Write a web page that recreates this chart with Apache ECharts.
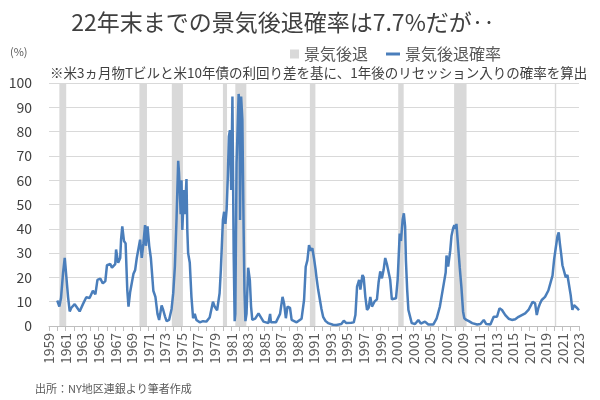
<!DOCTYPE html>
<html>
<head>
<meta charset="utf-8">
<script src="https://cdn.jsdelivr.net/npm/echarts@6/dist/echarts.min.js"></script>
<style>html,body{margin:0;padding:0;background:#fff}#c{width:600px;height:400px}</style>
</head>
<body>
<div id="c"></div>
<script>
// Time (decimal years) and recession probability (%)
const dates = [1960.0,1960.25,1960.45,1960.7,1960.9,1961.1,1961.3,1961.5,1961.7,1961.9,1962.1,1962.4,1962.7,1963.1,1963.5,1963.9,1964.3,1964.6,1964.85,1965.2,1965.5,1965.8,1966.0,1966.4,1966.6,1967.0,1967.1,1967.35,1967.6,1967.7,1967.85,1968.05,1968.25,1968.45,1968.6,1968.8,1969.0,1969.2,1969.4,1969.6,1969.8,1970.0,1970.2,1970.4,1970.6,1970.7,1970.9,1971.1,1971.3,1971.6,1971.85,1972.1,1972.3,1972.6,1972.8,1973.0,1973.2,1973.5,1973.8,1974.0,1974.2,1974.4,1974.6,1974.7,1974.9,1975.0,1975.1,1975.3,1975.4,1975.6,1975.7,1975.8,1976.0,1976.2,1976.4,1976.6,1976.8,1977.2,1977.6,1978.0,1978.4,1978.8,1979.0,1979.3,1979.6,1979.75,1980.0,1980.15,1980.3,1980.45,1980.6,1980.72,1980.85,1981.0,1981.15,1981.3,1981.42,1981.5,1981.65,1981.9,1982.0,1982.07,1982.2,1982.35,1982.5,1982.6,1982.72,1982.85,1983.05,1983.25,1983.4,1983.55,1983.9,1984.3,1984.5,1984.9,1985.5,1985.7,1985.8,1986.4,1986.9,1987.2,1987.4,1987.6,1987.8,1988.1,1988.3,1988.9,1989.5,1989.8,1990.0,1990.2,1990.4,1990.6,1990.8,1991.0,1991.2,1991.3,1991.5,1991.7,1991.9,1992.1,1992.4,1992.7,1993.3,1993.7,1994.3,1994.6,1994.9,1995.5,1995.8,1996.0,1996.2,1996.45,1996.6,1996.85,1997.0,1997.2,1997.4,1997.6,1997.8,1998.0,1998.3,1998.6,1998.8,1999.0,1999.2,1999.4,1999.6,1999.8,2000.0,2000.2,2000.4,2000.6,2000.9,2001.1,2001.2,2001.35,2001.5,2001.7,2001.85,2002.0,2002.1,2002.25,2002.4,2002.6,2002.8,2003.2,2003.6,2003.9,2004.4,2004.8,2005.4,2005.8,2006.2,2006.6,2006.9,2007.0,2007.2,2007.45,2007.6,2007.8,2007.95,2008.1,2008.2,2008.4,2008.6,2008.8,2009.0,2009.15,2009.4,2009.7,2010.1,2010.7,2011.1,2011.5,2011.8,2012.3,2012.7,2013.1,2013.4,2013.7,2014.1,2014.5,2014.9,2015.3,2015.7,2016.1,2016.5,2016.9,2017.2,2017.4,2017.7,2017.9,2018.1,2018.3,2018.5,2018.7,2018.9,2019.1,2019.3,2019.5,2019.8,2020.0,2020.2,2020.4,2020.55,2020.7,2020.85,2021.0,2021.15,2021.4,2021.6,2021.8,2022.0,2022.2,2022.4,2022.6,2022.8,2023.0];
const probability = [10.5,8,11.5,22,28,20,12,6,7.5,7,9,7.5,6,9,11.8,11.5,14.5,13,19,19.5,17.5,18.5,25,25.5,24,25.5,31.5,26,28,35.5,41,35,34,15,8,14,14,21.5,23,28,27.5,35.5,28,34,41.5,33,41,33,28,14.5,12,5,2.5,8.5,6.5,4,2,2.5,7,13.5,24.5,44,68,63,46,60,39.5,56,46,60.5,39.5,30,26,12,3.2,5,2.5,1.5,2,1.8,3.5,10,8,6.5,13.5,23,43.6,47,42,48,62,78,80.6,56,94.4,30,2,5,67,95.5,91.6,43.6,94.4,85,40,15,2,5,24,19,8,2.5,3,5.2,4.5,1.8,1.2,5,1.5,1.5,5,12,9,3.2,8,7.5,2.5,1.5,3,10.7,24.4,27,33.3,31,32,27.8,23,20,15,11,7,3.8,2,1.2,0.5,0.4,0.8,2.2,1.2,1.3,1.5,4.5,16.2,19,15,21,20,12,6.6,7.5,12,8,10,11,18,22.5,19.6,23,28,25.5,26,19,11,10.5,11.4,19,26.5,38,35,43.6,46.4,41,27,15,6.6,6,1.2,0.8,2.5,1,1.8,0.6,0.6,3,8,16,22,29,24.5,31,37,40.2,41.5,40,42,33,24,16,6,3.2,2.5,2,1.2,0.6,0.8,2.5,0.8,0.6,3.8,3.8,7.3,6.6,4.5,3,2.5,2.8,3.8,4.5,5.2,6.6,8.6,10,9.3,4.5,7.5,9.3,10.7,10,12,12.6,14.6,15.3,20.7,27.5,32.3,37,38.5,33.7,29.6,25,25,20,21,16.8,12.6,6.6,8.6,9.3,7.3,6.5];
// NBER recessions (decimal years)
const recessionStart = [1960.25,1969.92,1973.83,1980.0,1981.5,1990.5,2001.17,2007.92,2020.08];
const recessionEnd   = [1961.08,1970.83,1975.17,1980.5,1982.83,1991.17,2001.83,2009.42,2020.25];
const yTicks = [0,10,20,30,40,50,60,70,80,90,100];

const lineData = dates.map((d, i) => [d, probability[i]]);
const areas = recessionStart.map((s, i) => [{xAxis: s}, {xAxis: recessionEnd[i]}]);

const chart = echarts.init(document.getElementById('c'));
const font = '"Noto Sans CJK JP", "Noto Sans", sans-serif';
chart.setOption({
  animation: false,
  textStyle: {fontFamily: font},
  grid: {left: 49, right: 21, top: 83, bottom: 74},
  legend: [
    {data: [{name: '景気後退', icon: 'rect'}], left: 285, top: 41, itemWidth: 9, itemHeight: 9, itemGap: 5,
     textStyle: {fontSize: 16, color: '#595959', fontFamily: font}},
    {data: [{name: '景気後退確率', icon: 'rect'}], left: 381, top: 41, itemWidth: 14, itemHeight: 3,
     textStyle: {fontSize: 16, color: '#595959', fontFamily: font}}
  ],
  graphic: [
    {type: 'text', left: null, x: 283, y: 22, style: {text: '22年末までの景気後退確率は7.7%だが‥', fontSize: 23, fill: '#404040', fontFamily: font, align: 'center', verticalAlign: 'middle'}},
    {type: 'text', x: 10, y: 52, style: {text: '(%)', fontSize: 11, fill: '#595959', fontFamily: font, verticalAlign: 'middle'}},
    {type: 'text', x: 50, y: 73, style: {text: '※米3ヵ月物Tビルと米10年債の利回り差を基に、1年後のリセッション入りの確率を算出', fontSize: 13.5, fill: '#404040', fontFamily: font, verticalAlign: 'middle'}},
    {type: 'text', x: 35, y: 389, style: {text: '出所：NY地区連銀より筆者作成', fontSize: 11, fill: '#595959', fontFamily: font, verticalAlign: 'middle'}}
  ],
  xAxis: {
    type: 'value', min: 1959, max: 2023, interval: 1,
    axisLine: {show: true, lineStyle: {color: '#bfbfbf'}},
    axisTick: {show: true, length: 5, lineStyle: {color: '#bfbfbf'}},
    splitLine: {show: false},
    axisLabel: {rotate: 90, fontSize: 14, color: '#595959', margin: 7, fontFamily: font,
      formatter: v => (Math.round(v) % 2 === 1 ? String(Math.round(v)) : '')}
  },
  yAxis: {
    type: 'value', min: 0, max: 100, interval: 10,
    axisLine: {show: false}, axisTick: {show: false},
    splitLine: {lineStyle: {color: '#d9d9d9', width: 1}},
    axisLabel: {fontSize: 14, color: '#404040', margin: 17, fontFamily: font}
  },
  series: [
    {name: '景気後退', type: 'line', data: [], z: 1, silent: true,
     itemStyle: {color: '#d9d9d9'}, lineStyle: {color: '#d9d9d9'},
     markArea: {silent: true, itemStyle: {color: '#d9d9d9'}, data: areas}},
    {name: '景気後退確率', type: 'line', data: lineData, z: 3, showSymbol: false, symbol: 'none',
     itemStyle: {color: '#4a7ebb'}, lineStyle: {color: '#4a7ebb', width: 2.5}}
  ]
});
</script>
</body>
</html>
